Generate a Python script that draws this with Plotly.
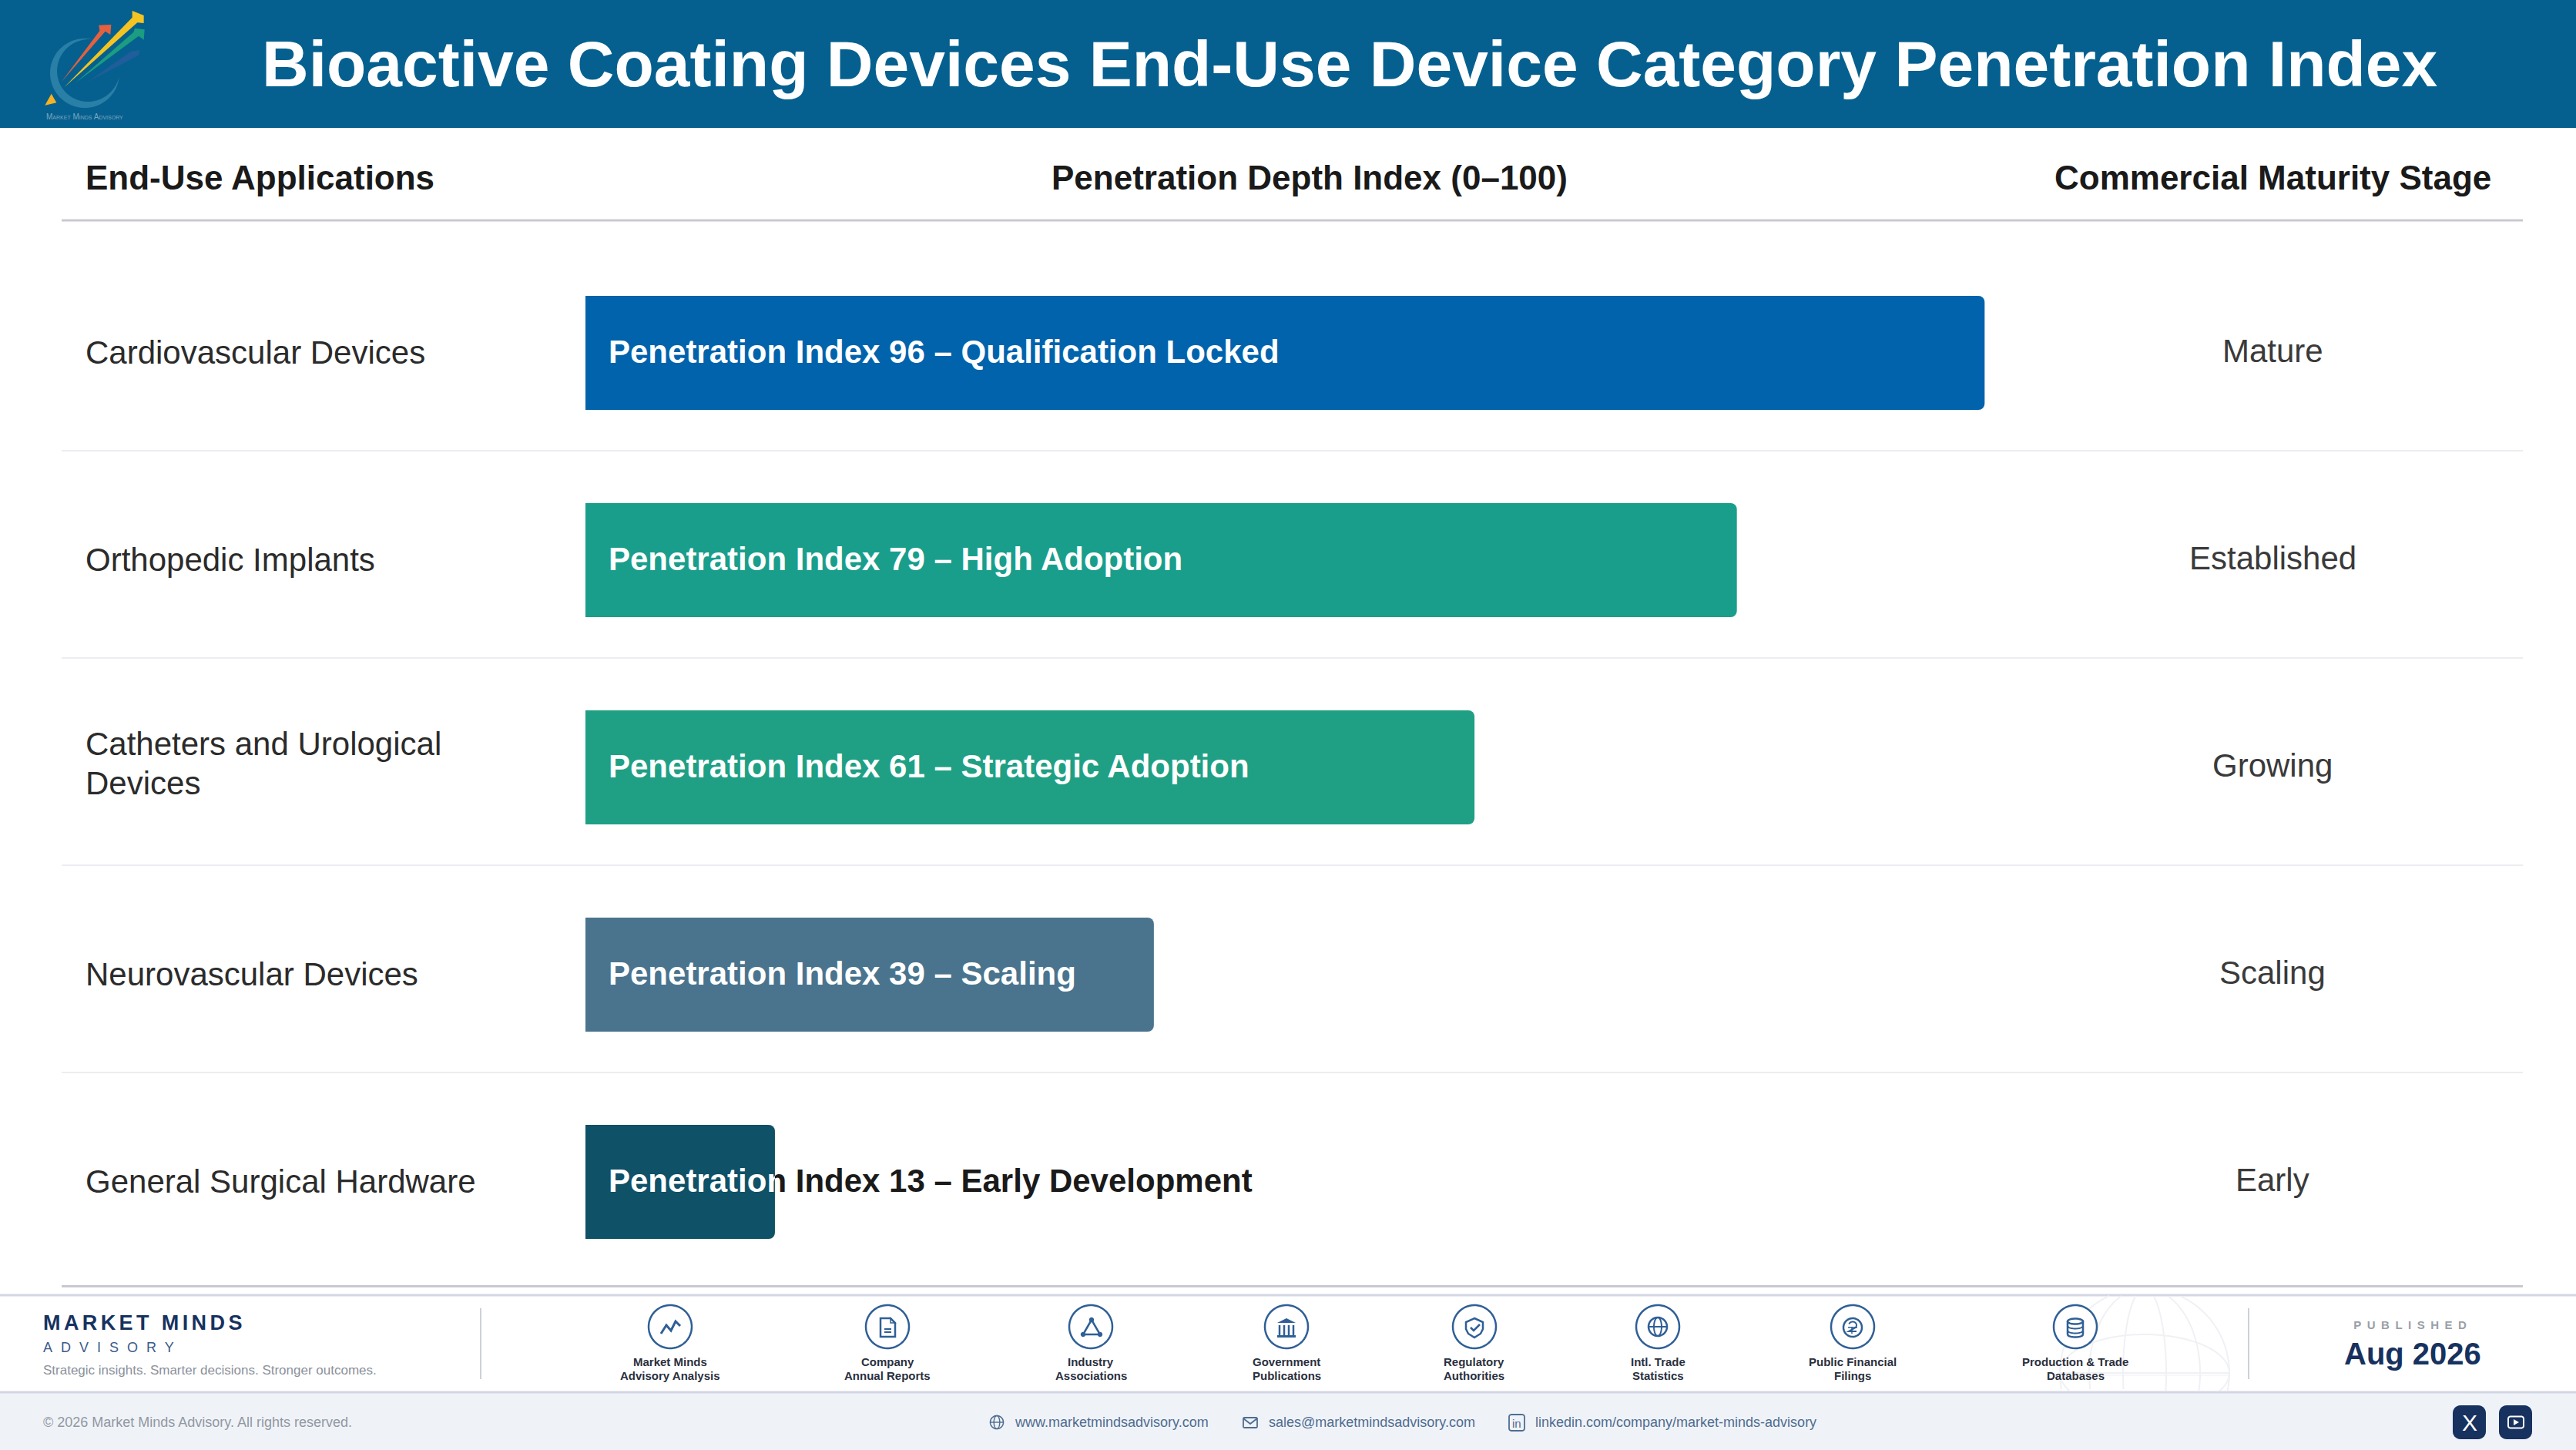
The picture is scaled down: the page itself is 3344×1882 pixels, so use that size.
import numpy as np
import plotly.graph_objects as go

W, H = 3344, 1882
FONT = "Liberation Sans"

# ---------- data ----------
categories = ["Cardiovascular Devices", "Orthopedic Implants", "Catheters and Urological Devices",
              "Neurovascular Devices", "General Surgical Hardware"]
category_lines = [["Cardiovascular Devices"], ["Orthopedic Implants"], ["Catheters and Urological", "Devices"],
                  ["Neurovascular Devices"], ["General Surgical Hardware"]]
index_values = [96, 79, 61, 39, 13]
descriptors = ["Qualification Locked", "High Adoption", "Strategic Adoption", "Scaling", "Early Development"]
stages = ["Mature", "Established", "Growing", "Scaling", "Early"]
bar_colors = ["#0063AC", "#1A9E8C", "#1FA085", "#4A748E", "#0F5167"]
source_labels = [["Market Minds", "Advisory Analysis"], ["Company", "Annual Reports"], ["Industry", "Associations"],
                 ["Government", "Publications"], ["Regulatory", "Authorities"], ["Intl. Trade", "Statistics"],
                 ["Public Financial", "Filings"], ["Production & Trade", "Databases"]]
source_x = [870, 1152, 1416, 1670, 1914, 2152, 2405, 2694]

NAVY = "#17325F"
ICON = "#2F5F96"
ICY = 1722


def X(x): return x / W
def Y(y): return 1 - y / H
def path(pts, close=False):
    s = "M" + " L".join(f"{X(a):.6f},{Y(b):.6f}" for a, b in pts)
    return s + (" Z" if close else "")
def arc(cx, cy, rx, ry, t0=0, t1=360, n=48):
    return [(cx + rx*np.cos(np.radians(t)), cy + ry*np.sin(np.radians(t))) for t in np.linspace(t0, t1, n)]
def rrect(x0, y0, x1, y1, r):
    return (arc(x0+r, y0+r, r, r, 180, 270, 8) + arc(x1-r, y0+r, r, r, 270, 360, 8) +
            arc(x1-r, y1-r, r, r, 0, 90, 8) + arc(x0+r, y1-r, r, r, 90, 180, 8))

shapes = []
def poly(pts, fill=None, line=None, w=0, close=True):
    shapes.append(dict(type="path", xref="paper", yref="paper", path=path(pts, close), layer="below",
                       fillcolor=fill if fill else "rgba(0,0,0,0)",
                       line=dict(color=line if line else "rgba(0,0,0,0)", width=w)))
def rect(x0, y0, x1, y1, fill):
    shapes.append(dict(type="rect", xref="paper", yref="paper", x0=X(x0), x1=X(x1), y0=Y(y0), y1=Y(y1),
                       fillcolor=fill, line=dict(width=0), layer="below"))
def hline(y, x0, x1, c, w):
    poly([(x0, y), (x1, y)], line=c, w=w, close=False)

annotations = []
def text(s, x, y, size, color, anchor="left", bold=False, yref="paper", yshift=0, **font):
    annotations.append(dict(text=s, x=X(x), y=Y(y) if yref == "paper" else y, xref="paper", yref=yref, yshift=yshift,
                            xanchor=anchor, yanchor="middle", showarrow=False, borderpad=0, align=anchor,
                            font=dict(family=FONT, size=size, color=color, weight="bold" if bold else "normal", **font)))

# ---------- header ----------
rect(0, 0, W, 166, "#05608F")
c = (110, 95)
ts = np.linspace(78, 354, 80)
thick = 10*np.sin(np.radians((ts-78)*180/276))
outer = [(c[0] + 45*np.cos(np.radians(-t)), c[1] + 45*np.sin(np.radians(-t))) for t in ts]
inner = [(c[0] + (45-d)*np.cos(np.radians(-t)), c[1] + (45-d)*np.sin(np.radians(-t))) for t, d in zip(ts, thick)]
poly(outer + inner[::-1], fill="#2A7FA6")
z = lambda zx, zy: (40 + zx/3, zy/3)
poly([z(220, 320), z(390, 200), z(425, 195), z(420, 215)], fill="#1F5E9A")
poly([z(175, 322), z(400, 125), z(405, 110), z(443, 115), z(440, 155), z(420, 140)], fill="#1C9C80")
poly([z(118, 320), z(268, 120), z(265, 98), z(313, 96), z(310, 135), z(290, 122)], fill="#E4603F")
poly([z(130, 340), z(395, 68), z(395, 42), z(440, 60), z(440, 90), z(415, 88)], fill="#F4C422")
poly([z(80, 365), z(100, 400), z(55, 410)], fill="#F4B224")
text("Market Minds Advisory", 110, 151, 10, "#7FA6BE", anchor="center", variant="small-caps")
text("Bioactive Coating Devices End-Use Device Category Penetration Index", 1752, 83, 84, "#FFFFFF", anchor="center", bold=True)

# ---------- column headers + rules ----------
text("End-Use Applications", 110, 231, 44, "#1A1A1A", bold=True)
text("Penetration Depth Index (0–100)", 1700, 231, 44, "#1A1A1A", anchor="center", bold=True)
text("Commercial Maturity Stage", 2950, 231, 44, "#1A1A1A", anchor="center", bold=True)
hline(286, 80, 3275, "#C9C9D2", 3)
for yy in (585, 854, 1123, 1392):
    hline(yy, 80, 3275, "#EDEDF1", 2)
hline(1669.5, 80, 3275, "#C9C9D2", 3)

# ---------- row labels ----------
for cat, lines, st in zip(categories, category_lines, stages):
    if len(lines) == 1:
        text(lines[0], 110, cat, 42, "#2B2B2B", yref="y", yshift=1)
    else:
        text(lines[0], 110, cat, 42, "#2B2B2B", yref="y", yshift=31)
        text(lines[1], 110, cat, 42, "#2B2B2B", yref="y", yshift=-20)
    text(st, 2950, cat, 42, "#3A3A3A", anchor="center", yref="y", yshift=2.5)

# ---------- footer ----------
hline(1681, 0, W, "#D3D6E4", 3)
rect(0, 1807, W, H, "#EFF3F8")
# faint globe watermark
gc = (2784, 1782)
for rx, ry in ((110, 110), (72, 110), (28, 110), (110, 50)):
    pts = [p for p in arc(gc[0], gc[1], rx, ry, 0, 360, 180)]
    seg = []
    for p in pts + pts[:1]:
        if 1682 < p[1] < 1806:
            seg.append(p)
        elif seg:
            poly(seg, line="#F0F1F5", w=2, close=False); seg = []
    if seg:
        poly(seg, line="#F0F1F5", w=2, close=False)
hline(1782, 2674, 2894, "#F0F1F5", 2)
hline(1785, 2674, 2894, "#F0F1F5", 1)
hline(1807, 0, W, "#D3D6E4", 3)

poly([(624, 1698), (624, 1790)], line="#CDD0D8", w=2, close=False)
poly([(2919, 1698), (2919, 1790)], line="#CDD0D8", w=2, close=False)

text("MARKET MINDS", 55, 1717, 27, NAVY, bold=True)
text("ADVISORY", 55, 1749, 18, "#3C5A8A")
text("Strategic insights. Smarter decisions. Stronger outcomes.", 55, 1778, 17, "#8C919B")
text("© 2026 Market Minds Advisory. All rights reserved.", 55, 1846, 18, "#9298A2")
text("www.marketmindsadvisory.com", 1316, 1846, 18, "#4F6C90")
text("sales@marketmindsadvisory.com", 1646, 1846, 18, "#4F6C90")
text("linkedin.com/company/market-minds-advisory", 1992, 1846, 18, "#4F6C90")
text("PUBLISHED", 3132, 1719, 15, "#9A9FA8", anchor="center", bold=True)
text("Aug 2026", 3132, 1757, 40, NAVY, anchor="center", bold=True)

for x, lab in zip(source_x, source_labels):
    poly(arc(x, ICY, 28, 28, n=64), fill="#FFFFFF", line=ICON, w=2.5)
    text(lab[0], x, 1767, 15, "#2A3040", anchor="center", bold=True)
    text(lab[1], x, 1785, 15, "#2A3040", anchor="center", bold=True)

def rel(cx, pts): return [(cx + a, ICY + b) for a, b in pts]
# market
poly(rel(870, [(-12, 9), (-5, -2), (1, 5), (7, -7), (13, -1)]), line=ICON, w=3, close=False)
# document
poly(rel(1152, [(-9, -11), (4, -11), (10, -5), (10, 13), (-9, 13)]), line=ICON, w=2.5)
poly(rel(1152, [(4, -11), (4, -5), (10, -5)]), line=ICON, w=1.5)
poly(rel(1152, [(-4, 3), (5, 3)]), line=ICON, w=2, close=False)
poly(rel(1152, [(-4, 7), (5, 7)]), line=ICON, w=2, close=False)
# triangle
poly(rel(1417, [(0, -9), (-11, 10), (11, 10)]), line=ICON, w=2.5)
for a, b in ((0, -9), (-11, 10), (11, 10)):
    poly(arc(1417 + a, ICY + b, 3.2, 3.2, n=20), fill=ICON)
# government
poly(rel(1670, [(-12, -5), (0, -11), (12, -5)]), fill=ICON)
for a in (-9, -3, 3, 9):
    poly(rel(1670, [(a, -2), (a, 11)]), line=ICON, w=2.5, close=False)
poly(rel(1670, [(-12, 11), (12, 11), (12, 14), (-12, 14)]), fill=ICON)
# shield
poly(rel(1914, [(0, -11), (11, -6), (11, 3), (8, 9), (0, 14), (-8, 9), (-11, 3), (-11, -6)]), line=ICON, w=2.5)
poly(rel(1914, [(-5, 1), (-1, 5), (7, -3)]), line=ICON, w=2.5, close=False)
# globe
poly(arc(2152, ICY, 12, 12), line=ICON, w=2.5)
poly(arc(2152, ICY, 5, 12), line=ICON, w=2)
poly(rel(2152, [(-12, 0), (12, 0)]), line=ICON, w=2, close=False)
# money
poly(arc(2405, ICY + 1, 12, 12), line=ICON, w=2.5)
poly(arc(2405, ICY - 2, 5, 4.5, -160, 40, 16) + [(2400, ICY + 6), (2410, ICY + 6)], line=ICON, w=2, close=False)
poly(rel(2405, [(-6, 1), (6, 1)]), line=ICON, w=1.5, close=False)
poly(rel(2405, [(-1, 0), (-1, 9)]), line=ICON, w=1.5, close=False)
# database
poly(arc(2694, ICY - 7, 10, 3.5), line=ICON, w=2.5)
poly(arc(2694, ICY - 1, 10, 3.5, 0, 180, 16), line=ICON, w=2, close=False)
poly(arc(2694, ICY + 5, 10, 3.5, 0, 180, 16), line=ICON, w=2, close=False)
poly(arc(2694, ICY + 10, 10, 3.5, 0, 180, 16), line=ICON, w=2.5, close=False)
poly([(2684, ICY - 7), (2684, ICY + 10)], line=ICON, w=2.5, close=False)
poly([(2704, ICY - 7), (2704, ICY + 10)], line=ICON, w=2.5, close=False)

# contact icons
LINK = "#4F6C90"
poly(arc(1294, 1846, 8.5, 8.5), line=LINK, w=1.6)
poly(arc(1294, 1846, 3.8, 8.5), line=LINK, w=1.4)
hline(1846, 1285.5, 1302.5, LINK, 1.4)
poly(rrect(1614, 1840, 1632, 1853, 1.5), line=LINK, w=1.8)
poly([(1614, 1841), (1623, 1848), (1632, 1841)], line=LINK, w=1.8, close=False)
poly(rrect(1959, 1836, 1979, 1857, 3), line=LINK, w=1.8)
text("in", 1969, 1847, 15, LINK, anchor="center")

# social buttons
poly(rrect(3184, 1824, 3227, 1868, 10), fill=NAVY)
poly(rrect(3244, 1824, 3287, 1868, 10), fill=NAVY)
text("X", 3205.5, 1846, 30, "#FFFFFF", anchor="center")
poly(rrect(3256, 1838.5, 3276, 1853.5, 3), line="#FFFFFF", w=2)
poly([(3263, 1842), (3270, 1846), (3263, 1850)], fill="#FFFFFF")

# ---------- chart ----------
BAR_X0, X100 = 760, 2652
PX_PER_UNIT = (X100 - BAR_X0) / 100
TXT_X = 30 / PX_PER_UNIT
small = index_values[-1]
SPLIT = BAR_X0 + small * PX_PER_UNIT

fig = go.Figure()
fig.add_trace(go.Bar(orientation="h", x=index_values, y=categories, width=0.55,
                     marker=dict(color=bar_colors, line=dict(width=0)), showlegend=False, hoverinfo="skip"))
labels = [f"Penetration Index {v} – {d}" for v, d in zip(index_values, descriptors)]
tf = dict(family=FONT, size=42, weight="bold")
fig.add_trace(go.Scatter(x=[TXT_X]*4, y=categories[:4], text=labels[:4], mode="text", textposition="middle right",
                         textfont=dict(color="#FFFFFF", **tf), showlegend=False, hoverinfo="skip",
                         xaxis="x4", yaxis="y4", cliponaxis=False))
# last label overflows its bar: white inside the bar, dark beyond it
fig.add_trace(go.Scatter(x=[TXT_X], y=categories[4:], text=labels[4:], mode="text", textposition="middle right",
                         textfont=dict(color="#FFFFFF", **tf), showlegend=False, hoverinfo="skip",
                         xaxis="x2", yaxis="y2", cliponaxis=True))
fig.add_trace(go.Scatter(x=[TXT_X], y=categories[4:], text=labels[4:], mode="text", textposition="middle right",
                         textfont=dict(color="#1A1A1A", **tf), showlegend=False, hoverinfo="skip",
                         xaxis="x3", yaxis="y3", cliponaxis=True))

ydom = [1 - 1668.5/H, 1 - 323.5/H]
TXT_SHIFT = 2 / H    # label baseline sits slightly lower than the bar centre
ydom_txt = [ydom[0] - TXT_SHIFT, ydom[1] - TXT_SHIFT]
yax = dict(type="category", categoryorder="array", categoryarray=categories, range=[4.5, -0.5],
           autorange=False, visible=False, fixedrange=True)
fig.update_layout(
    width=W, height=H, margin=dict(l=0, r=0, t=0, b=0), paper_bgcolor="#FFFFFF", plot_bgcolor="rgba(0,0,0,0)",
    font=dict(family=FONT), showlegend=False, barmode="overlay", barcornerradius=8,
    shapes=shapes, annotations=annotations,
    xaxis=dict(range=[0, 100], domain=[BAR_X0/W, X100/W], visible=False, fixedrange=True, anchor="y"),
    yaxis=dict(anchor="x", domain=ydom, **yax),
    xaxis2=dict(range=[0, small], domain=[BAR_X0/W, SPLIT/W], visible=False, fixedrange=True, anchor="y2"),
    yaxis2=dict(anchor="x2", domain=ydom_txt, **yax),
    xaxis3=dict(range=[small, 100], domain=[SPLIT/W, X100/W], visible=False, fixedrange=True, anchor="y3"),
    yaxis3=dict(anchor="x3", domain=ydom_txt, **yax),
    xaxis4=dict(range=[0, 100], domain=[BAR_X0/W, X100/W], visible=False, fixedrange=True, anchor="y4"),
    yaxis4=dict(anchor="x4", domain=ydom_txt, **yax),
)

post = """
document.body.style.margin = '0';
document.documentElement.style.overflow = 'hidden';
var sp = {'MARKET MINDS': '4.4px', 'ADVISORY': '11px', 'PUBLISHED': '7.5px'};
document.querySelectorAll('text.annotation-text').forEach(function (t) {
  if (sp[t.textContent]) { t.style.letterSpacing = sp[t.textContent]; }
});
"""
fig.write_html("out.html", post_script=post, config=dict(displayModeBar=False))
